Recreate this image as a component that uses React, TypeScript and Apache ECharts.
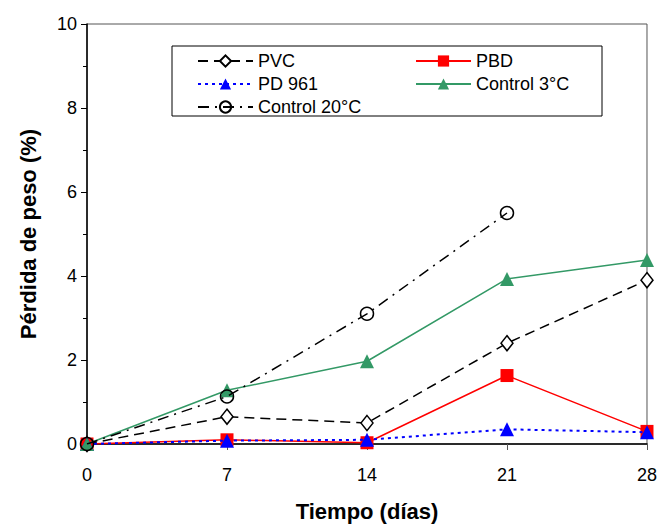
import React, { useEffect, useRef } from "react";
import * as echarts from "echarts";

const days = [0, 7, 14, 21, 28];
const pvc = [0, 0.65, 0.5, 2.4, 3.9];
const pbd = [0, 0.1, 0.03, 1.63, 0.3];
const pd961 = [0, 0.08, 0.1, 0.35, 0.28];
const control3 = [0, 1.28, 1.97, 3.93, 4.38];
const control20 = [0, 1.13, 3.1, 5.5];
const yTicks = [0, 2, 4, 6, 8, 10];

const FONT = "Liberation Sans, Arial, sans-serif";

function pairs(vals: number[]) {
  return vals.map((v, i) => [days[i], v]);
}

export default function App() {
  const ref = useRef<HTMLDivElement>(null);
  useEffect(() => {
    const chart = echarts.init(ref.current!, null, { renderer: "svg" });
    const legendText = { fontFamily: FONT, fontSize: 18, color: "#000", lineHeight: 18 };
    chart.setOption({
      animation: false,
      backgroundColor: "#fff",
      grid: {
        left: 87,
        top: 24,
        right: 12,
        bottom: 83,
        show: true,
        borderColor: "#555",
        borderWidth: 1,
      },
      xAxis: {
        type: "value",
        min: 0,
        max: 28,
        interval: 7,
        name: "Tiempo (días)",
        nameLocation: "middle",
        nameGap: 56,
        nameTextStyle: { fontFamily: FONT, fontSize: 22, fontWeight: "bold", color: "#000" },
        axisLine: { show: true, lineStyle: { color: "#000", width: 1.5 } },
        axisTick: { show: true, inside: false, length: 6, lineStyle: { color: "#555" } },
        axisLabel: { fontFamily: FONT, fontSize: 18, color: "#000", margin: 22 },
        splitLine: { show: false },
      },
      yAxis: {
        type: "value",
        min: 0,
        max: 10,
        interval: 2,
        name: "Pérdida de peso (%)",
        nameLocation: "middle",
        nameGap: 48,
        nameTextStyle: { fontFamily: FONT, fontSize: 22, fontWeight: "bold", color: "#000" },
        axisLine: { show: true, lineStyle: { color: "#000", width: 1.5 } },
        axisTick: { show: true, inside: false, length: 6, lineStyle: { color: "#000" } },
        minorTick: { show: true, splitNumber: 2, length: 4, lineStyle: { color: "#000" } },
        axisLabel: {
          fontFamily: FONT,
          fontSize: 18,
          color: "#000",
          margin: 10,
          formatter: (v: number) => (yTicks.includes(v) ? String(v) : ""),
        },
        splitLine: { show: false },
      },
      legend: [
        {
          orient: "vertical",
          left: 192,
          top: 47,
          itemWidth: 55,
          itemHeight: 14,
          itemGap: 5,
          textStyle: legendText,
          data: ["PVC", "PD 961", "Control 20°C"],
          selectedMode: false,
        },
        {
          orient: "vertical",
          left: 410,
          top: 47,
          itemWidth: 55,
          itemHeight: 14,
          itemGap: 5,
          textStyle: legendText,
          data: ["PBD", "Control 3°C"],
          selectedMode: false,
        },
      ],
      graphic: [
        {
          type: "rect",
          shape: { x: 172, y: 46, width: 430, height: 70 },
          style: { fill: "none", stroke: "#000", lineWidth: 1 },
          z: 100,
        },
      ],
      series: [
        {
          name: "PVC",
          type: "line",
          data: pairs(pvc),
          symbol: "diamond",
          symbolSize: [12, 15],
          lineStyle: { color: "#000", width: 1.5, type: [10, 6] },
          itemStyle: { color: "#fff", borderColor: "#000", borderWidth: 1.5 },
          z: 2,
        },
        {
          name: "PBD",
          type: "line",
          data: pairs(pbd),
          symbol: "rect",
          symbolSize: 13,
          lineStyle: { color: "#ff0000", width: 1.5, type: "solid" },
          itemStyle: { color: "#ff0000" },
          z: 3,
        },
        {
          name: "PD 961",
          type: "line",
          data: pairs(pd961),
          symbol: "triangle",
          symbolSize: 14,
          lineStyle: { color: "#0000ff", width: 2, type: [3, 4] },
          itemStyle: { color: "#0000ff" },
          z: 4,
        },
        {
          name: "Control 3°C",
          type: "line",
          data: pairs(control3),
          symbol: "triangle",
          symbolSize: 14,
          lineStyle: { color: "#339966", width: 1.5, type: "solid" },
          itemStyle: { color: "#339966" },
          z: 5,
        },
        {
          name: "Control 20°C",
          type: "line",
          data: pairs(control20),
          symbol: "circle",
          symbolSize: 13,
          lineStyle: { color: "#000", width: 1.5, type: [11, 6, 2, 6] },
          itemStyle: { color: "rgba(255,255,255,0)", borderColor: "#000", borderWidth: 1.5 },
          z: 6,
        },
      ],
    });
    return () => chart.dispose();
  }, []);
  return <div ref={ref} style={{ width: 660, height: 527, position: "absolute", left: 0, top: 0 }} />;
}
